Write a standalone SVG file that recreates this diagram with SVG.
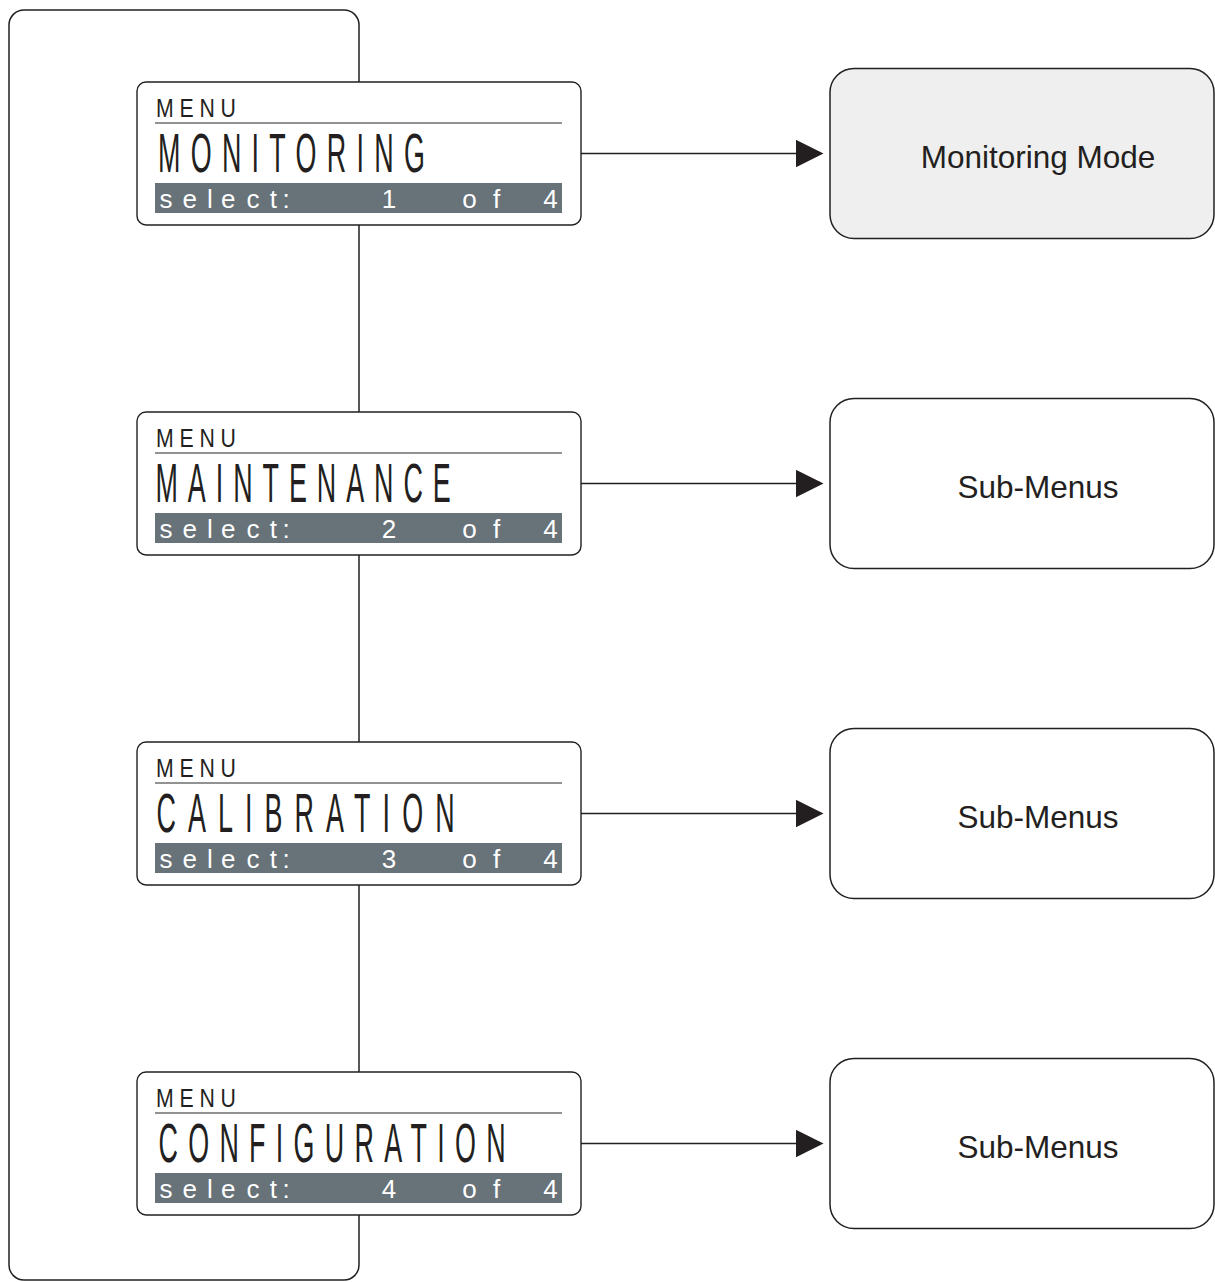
<svg xmlns="http://www.w3.org/2000/svg" width="1215" height="1282" viewBox="0 0 1215 1282">
<style>
.line{fill:none;stroke:#231f20;stroke-width:1.5}
.lcd{fill:#ffffff;stroke:#231f20;stroke-width:1.4}
.rule{stroke:#6d6e70;stroke-width:1.6}
.bar{fill:#687279}
.menu{font-family:"Liberation Sans",Arial,sans-serif;font-size:25px;fill:#231f20}
.title{font-family:"Liberation Sans",Arial,sans-serif;font-size:56px;fill:#231f20}
.sel{font-family:"Liberation Sans",Arial,sans-serif;font-size:26px;fill:#ffffff;text-anchor:middle}
.box{stroke:#231f20;stroke-width:1.5}
.lbl{font-family:"Liberation Sans",Arial,sans-serif;font-size:31.5px;fill:#231f20;text-anchor:middle}
</style>
<defs>
<marker id="ah" markerUnits="userSpaceOnUse" markerWidth="28" markerHeight="28" refX="0" refY="13.7" orient="auto">
<path d="M0,0 L27.5,13.7 L0,27.4 z" fill="#231f20"/>
</marker>
</defs>
<rect width="1215" height="1282" fill="#ffffff"/>
<g id="connectors">
<rect class="line" x="9" y="10" width="350" height="1270" rx="15" ry="15"/>
<line class="line" x1="581" y1="153.5" x2="796" y2="153.5" marker-end="url(#ah)"/>
<line class="line" x1="581" y1="483.5" x2="796" y2="483.5" marker-end="url(#ah)"/>
<line class="line" x1="581" y1="813.5" x2="796" y2="813.5" marker-end="url(#ah)"/>
<line class="line" x1="581" y1="1143.5" x2="796" y2="1143.5" marker-end="url(#ah)"/>
</g>
<g id="lcd-monitoring">
<rect class="lcd" x="137" y="82" width="444" height="143" rx="9"/>
<text class="menu" transform="translate(156,117) scale(0.85,1)" textLength="94" lengthAdjust="spacing">MENU</text>
<line class="rule" x1="155" y1="123" x2="562" y2="123"/>
<text class="title" transform="translate(158,172) scale(0.48,1)" textLength="556" lengthAdjust="spacing">MONITORING</text>
<rect class="bar" x="155" y="183" width="407" height="30"/>
<text class="sel" x="166 189.7 209.8 228.3 253 273.3 286.2" y="208">select:</text>
<text class="sel" x="389" y="208">1</text>
<text class="sel" x="469.5 496.5" y="208">of</text>
<text class="sel" x="550.5" y="208">4</text>
</g>
<g id="lcd-maintenance">
<rect class="lcd" x="137" y="412" width="444" height="143" rx="9"/>
<text class="menu" transform="translate(156,447) scale(0.85,1)" textLength="94" lengthAdjust="spacing">MENU</text>
<line class="rule" x1="155" y1="453" x2="562" y2="453"/>
<text class="title" transform="translate(155.5,502) scale(0.48,1)" textLength="615" lengthAdjust="spacing">MAINTENANCE</text>
<rect class="bar" x="155" y="513" width="407" height="30"/>
<text class="sel" x="166 189.7 209.8 228.3 253 273.3 286.2" y="538">select:</text>
<text class="sel" x="389" y="538">2</text>
<text class="sel" x="469.5 496.5" y="538">of</text>
<text class="sel" x="550.5" y="538">4</text>
</g>
<g id="lcd-calibration">
<rect class="lcd" x="137" y="742" width="444" height="143" rx="9"/>
<text class="menu" transform="translate(156,777) scale(0.85,1)" textLength="94" lengthAdjust="spacing">MENU</text>
<line class="rule" x1="155" y1="783" x2="562" y2="783"/>
<text class="title" transform="translate(156.5,832) scale(0.48,1)" textLength="621" lengthAdjust="spacing">CALIBRATION</text>
<rect class="bar" x="155" y="843" width="407" height="30"/>
<text class="sel" x="166 189.7 209.8 228.3 253 273.3 286.2" y="868">select:</text>
<text class="sel" x="389" y="868">3</text>
<text class="sel" x="469.5 496.5" y="868">of</text>
<text class="sel" x="550.5" y="868">4</text>
</g>
<g id="lcd-configuration">
<rect class="lcd" x="137" y="1072" width="444" height="143" rx="9"/>
<text class="menu" transform="translate(156,1107) scale(0.85,1)" textLength="94" lengthAdjust="spacing">MENU</text>
<line class="rule" x1="155" y1="1113" x2="562" y2="1113"/>
<text class="title" transform="translate(158.5,1162) scale(0.48,1)" textLength="723" lengthAdjust="spacing">CONFIGURATION</text>
<rect class="bar" x="155" y="1173" width="407" height="30"/>
<text class="sel" x="166 189.7 209.8 228.3 253 273.3 286.2" y="1198">select:</text>
<text class="sel" x="389" y="1198">4</text>
<text class="sel" x="469.5 496.5" y="1198">of</text>
<text class="sel" x="550.5" y="1198">4</text>
</g>
<g id="monitoring-mode">
<rect class="box" x="830" y="68.5" width="384" height="170" rx="24" fill="#efefef"/>
<text class="lbl" x="1038" y="168">Monitoring Mode</text>
</g>
<g id="sub-menus-2">
<rect class="box" x="830" y="398.5" width="384" height="170" rx="24" fill="#ffffff"/>
<text class="lbl" x="1038" y="498">Sub-Menus</text>
</g>
<g id="sub-menus-3">
<rect class="box" x="830" y="728.5" width="384" height="170" rx="24" fill="#ffffff"/>
<text class="lbl" x="1038" y="828">Sub-Menus</text>
</g>
<g id="sub-menus-4">
<rect class="box" x="830" y="1058.5" width="384" height="170" rx="24" fill="#ffffff"/>
<text class="lbl" x="1038" y="1158">Sub-Menus</text>
</g>
</svg>
